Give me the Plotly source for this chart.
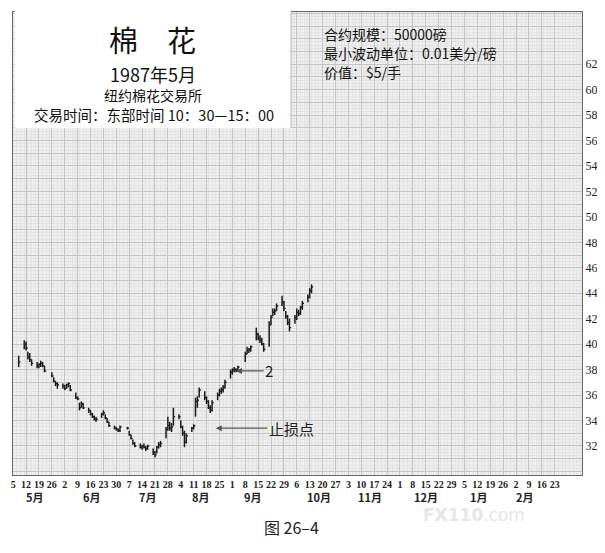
import pandas as pd
import plotly.graph_objects as go

# ---- data (daily high / low / close, cents per lb) ----
holidays = ["1987-05-25", "1987-07-03", "1987-09-07"]
trade_days = [d for d in pd.bdate_range("1987-05-08", "1987-10-14")
              if d.strftime("%Y-%m-%d") not in holidays]

highs = [
    39.1,
    40.3, 40.2, 39.4, 39.3, 38.8,
    38.6, 38.5, 38.7, 38.6, 38.3,
    37.8, 37.4, 37.1, 37.0,
    36.9, 36.8, 36.9, 37.0, 36.8,
    36.2, 35.9, 35.4, 35.5, 35.4,
    35.0, 34.8, 34.6, 34.4, 34.3,
    34.6, 34.8, 34.5, 34.2, 33.9,
    33.6, 33.5, 33.4, 33.6,
    33.5, 33.2, 32.9, 32.5, 32.3,
    32.2, 32.1, 32.2, 32.0, 32.1,
    31.8, 31.6, 32.0, 32.3, 32.4,
    33.5, 34.3, 33.9, 33.8, 35.0,
    34.5, 34.0, 33.6, 33.2, 33.0,
    33.5, 33.7, 35.8, 35.9, 36.6,
    36.3, 35.9, 35.6, 35.2, 35.6,
    36.2, 36.5, 36.6, 36.8, 37.2,
    38.0, 38.1, 38.2, 38.1, 38.3,
    39.4, 39.8, 39.7, 39.9,
    41.3, 40.9, 40.7, 40.5, 40.1,
    41.8, 42.3, 42.8, 42.8, 43.2,
    43.8, 43.4, 42.6, 42.3, 42.0,
    42.3, 42.8, 42.7, 43.0, 43.4,
    43.9, 44.4, 44.7,
]
lows = [
    38.2,
    39.6, 39.5, 38.8, 38.6, 38.3,
    38.1, 38.1, 38.2, 38.2, 37.8,
    37.4, 37.0, 36.7, 36.5,
    36.5, 36.4, 36.5, 36.6, 36.3,
    35.7, 35.6, 34.8, 35.0, 34.9,
    34.6, 34.4, 34.2, 34.0, 33.9,
    34.2, 34.4, 34.1, 33.8, 33.5,
    33.3, 33.2, 33.1, 33.1,
    33.3, 32.8, 32.5, 32.1, 31.9,
    31.8, 31.7, 31.8, 31.6, 31.7,
    31.3, 31.1, 31.4, 31.8, 31.9,
    32.6, 33.2, 33.2, 33.1, 33.6,
    34.1, 33.4, 32.8, 31.9, 32.2,
    33.1, 33.3, 34.3, 35.0, 35.8,
    35.6, 35.3, 34.9, 34.6, 34.7,
    35.6, 35.9, 36.1, 36.2, 36.5,
    37.3, 37.6, 37.8, 37.8, 37.9,
    38.6, 39.2, 39.3, 39.4,
    40.3, 40.3, 40.1, 39.9, 39.4,
    39.8, 41.5, 42.2, 42.3, 42.6,
    43.0, 42.6, 42.0, 41.5, 41.0,
    41.6, 41.9, 42.2, 42.3, 42.7,
    43.3, 43.6, 44.0,
]
closes = [
    38.6,
    40.0, 39.7, 39.0, 38.8, 38.5,
    38.3, 38.4, 38.5, 38.3, 37.9,
    37.5, 37.1, 36.9, 36.8,
    36.7, 36.5, 36.8, 36.9, 36.4,
    35.8, 35.7, 35.0, 35.3, 35.0,
    34.8, 34.5, 34.3, 34.1, 34.1,
    34.5, 34.6, 34.2, 33.9, 33.6,
    33.4, 33.3, 33.2, 33.5,
    33.4, 32.9, 32.6, 32.2, 32.0,
    31.9, 32.0, 31.9, 31.8, 32.0,
    31.5, 31.3, 31.9, 32.1, 32.2,
    33.3, 33.6, 33.4, 33.5, 34.3,
    34.3, 33.5, 33.0, 32.3, 32.8,
    33.4, 33.6, 35.5, 35.6, 36.4,
    35.8, 35.5, 35.0, 34.8, 35.4,
    36.0, 36.3, 36.4, 36.6, 37.0,
    37.8, 38.0, 38.0, 37.9, 38.2,
    39.2, 39.5, 39.6, 39.8,
    40.8, 40.5, 40.3, 40.0, 39.6,
    41.5, 42.1, 42.5, 42.6, 43.0,
    43.3, 42.8, 42.2, 41.7, 41.3,
    42.1, 42.5, 42.4, 42.9, 43.2,
    43.7, 44.2, 44.5,
]
assert len(trade_days) == len(highs) == len(lows) == len(closes)

week_ticks = pd.date_range("1987-05-05", "1988-02-23", freq="7D")
week_labels = [str(d.day) for d in week_ticks]

month_labels = ["5月", "6月", "7月", "8月", "9月", "10月", "11月", "12月", "1月", "2月"]
month_pos = ["1987-05-17", "1987-06-17", "1987-07-17", "1987-08-15", "1987-09-12",
             "1987-10-18", "1987-11-15", "1987-12-15", "1988-01-13", "1988-02-07"]

price_ticks = list(range(30, 67))
price_labels = [str(v) if v % 2 == 0 and 32 <= v <= 62 else "" for v in price_ticks]

# ---- bar segments ----
bx, by = [], []
for d, h, l in zip(trade_days, highs, lows):
    bx += [d, d, None]
    by += [l, h, None]
cx, cy = [], []
for d, c in zip(trade_days, closes):
    cx += [d, d + pd.Timedelta(hours=22), None]
    cy += [c, c, None]

fig = go.Figure()
fig.add_trace(go.Scatter(x=bx, y=by, mode="lines", line=dict(color="#1a1a1a", width=1.5),
                         hoverinfo="skip", showlegend=False))
fig.add_trace(go.Scatter(x=cx, y=cy, mode="lines", line=dict(color="#1a1a1a", width=1.3),
                         hoverinfo="skip", showlegend=False))

cjk = "Noto Sans CJK SC"
serif = "Liberation Serif"

# page body adds an 8px offset, so the figure is 8px smaller than the window
fig.update_layout(
    width=597, height=545,
    margin=dict(l=3, r=23, t=4, b=78),
    paper_bgcolor="white", plot_bgcolor="#efefef",
    xaxis=dict(
        type="date", range=["1987-05-04 22:00", "1988-03-08 20:00"],
        tickmode="array", tickvals=week_ticks, ticktext=week_labels,
        tickfont=dict(family=serif, size=10, color="#222", weight="bold"),
        tickangle=0, ticks="", ticklen=0, ticklabelstandoff=0, ticklabeloverflow="allow",
        showgrid=True, gridcolor="#c4c4c4", gridwidth=1,
        minor=dict(dtick=2 * 86400000, showgrid=True, gridcolor="#e3e3e3", gridwidth=1),
        showline=True, mirror=True, linecolor="#666", linewidth=1, zeroline=False,
    ),
    yaxis=dict(
        range=[29.72, 66.1], side="right",
        tickmode="array", tickvals=price_ticks, ticktext=price_labels,
        tickfont=dict(family=serif, size=12, color="#222"),
        ticks="", ticklen=0, ticklabelstandoff=0,
        showgrid=True, gridcolor="#c4c4c4", gridwidth=1,
        minor=dict(dtick=0.25, showgrid=True, gridcolor="#e3e3e3", gridwidth=1),
        showline=True, mirror=True, linecolor="#666", linewidth=1, zeroline=False,
    ),
)

X0, W = 11, 571  # plot area left edge and width in window pixels


def px_x(x):
    return (x - X0) / W


def px_y(y):
    return (475 - y) / 463


# title box covering the grid top-left
fig.add_shape(type="rect", xref="paper", yref="paper", x0=0.003, x1=px_x(290),
              y0=px_y(128), y1=1.01, fillcolor="white", line=dict(width=0), layer="above")
fig.add_shape(type="line", xref="paper", yref="paper", x0=px_x(290), x1=px_x(290),
              y0=px_y(128), y1=1.0, line=dict(color="#bbbbbb", width=1), layer="above")

texts = [
    ("棉　花", 151, 39, 29),
    ("1987年5月", 151, 74, 18),
    ("纽约棉花交易所", 151, 95, 14),
    ("交易时间：东部时间 10：30—15：00", 152, 115, 14.5),
]
for t, x, y, s in texts:
    fig.add_annotation(text=t, xref="paper", yref="paper", x=px_x(x), y=px_y(y),
                       showarrow=False, font=dict(family=cjk, size=s, color="#111"),
                       xanchor="center", yanchor="middle", borderpad=0)

spec_lines = ["合约规模：50000磅", "最小波动单位：0.01美分/磅", "价值：$5/手"]
for i, t in enumerate(spec_lines):
    fig.add_annotation(text=t, xref="paper", yref="paper", x=px_x(322), y=px_y(34 + 19 * i),
                       showarrow=False, font=dict(family=cjk, size=14, color="#111"),
                       xanchor="left", yanchor="middle", borderpad=0)

for t, d in zip(month_labels, month_pos):
    fig.add_annotation(text=t, x=d, xref="x", yref="paper", y=px_y(497), showarrow=False,
                       font=dict(family=cjk, size=11, color="#222", weight="bold"),
                       yanchor="middle")

fig.add_annotation(text="2", x="1987-09-03", y=37.9, ax="1987-09-21", ay=37.9,
                   xref="x", yref="y", axref="x", ayref="y",
                   showarrow=True, arrowhead=2, arrowsize=1, arrowwidth=1.2, arrowcolor="#555",
                   font=dict(family=cjk, size=15, color="#222"))
fig.add_annotation(text="止损点", x="1987-08-23", y=33.4, ax="1987-10-03", ay=33.4,
                   xref="x", yref="y", axref="x", ayref="y",
                   showarrow=True, arrowhead=2, arrowsize=1, arrowwidth=1.2, arrowcolor="#555",
                   font=dict(family=cjk, size=15, color="#222"))

fig.add_annotation(text="图 26–4", xref="paper", yref="paper", x=px_x(290), y=px_y(527),
                   showarrow=False, font=dict(family=cjk, size=16, color="#222"),
                   yanchor="middle")
fig.add_annotation(text="<b>FX110</b>.com", xref="paper", yref="paper", x=px_x(527), y=px_y(515),
                   showarrow=False, font=dict(family="DejaVu Sans", size=17, color="#e6e6e6"),
                   yanchor="middle")

fig.write_html("out.html")
